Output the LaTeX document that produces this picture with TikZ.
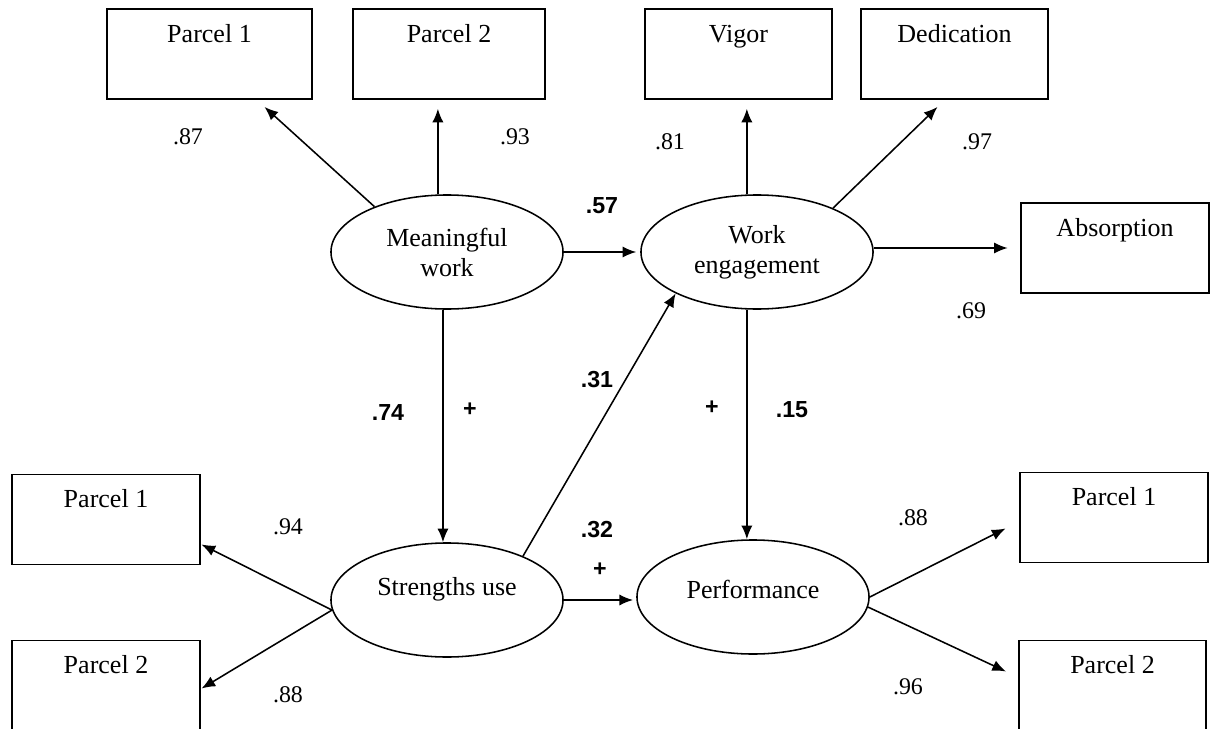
\documentclass[tikz,border=0pt]{standalone}
\usepackage{fontspec}
\setmainfont{Liberation Serif}
\newfontfamily\numsans{Liberation Sans}
\usetikzlibrary{arrows.meta,calc,shapes.geometric}

\tikzset{
	obs/.style={draw, line width=1.3pt, inner sep=0pt, minimum width=4.68cm, minimum height=2.25cm,
		text height=0.83cm, text depth=1.42cm, font=\fontsize{18.5}{21}\selectfont},
	lat/.style={ellipse, draw, line width=1.1pt, inner sep=0pt, minimum width=5.8cm, minimum height=2.85cm,
		align=center, font=\fontsize{18.5}{21.3}\selectfont},
	arr/.style={-{Latex[length=0.34cm,width=0.28cm]}, line width=1.1pt},
	load/.style={font=\fontsize{17}{20}\selectfont},
	coef/.style={font=\numsans\bfseries\fontsize{16.5}{20}\selectfont}
}

\begin{document}
\begin{tikzpicture}[x=0.025cm, y=-0.025cm]
		%%%%% START %%%%%
		\useasboundingbox (0,0) rectangle (1210,729);
		
		% indicators
		\node[obs, minimum width=5.125cm] (p1t) at (209.5,54) {Parcel 1};
		\node[obs, minimum width=4.8cm] (p2t) at (449,54) {Parcel 2};
		\node[obs] (vig) at (738.5,54) {Vigor};
		\node[obs] (ded) at (954.5,54) {Dedication};
		\node[obs] (abs) at (1115,248) {Absorption};
		\node[obs] (p1b) at (106,519.5) {Parcel 1};
		\node[obs] (p2b) at (106,685.5) {Parcel 2};
		\node[obs] (p1r) at (1114,517.5) {Parcel 1};
		\node[obs] (p2r) at (1112.5,685.5) {Parcel 2};
		
		% latent variables
		\node[lat] (mw) at (447,252) {Meaningful\\work};
		\node[lat] (we) at (757,252) {Work\\engagement};
		\node[lat, text depth=0.7cm] (su) at (447,600) {Strengths use};
		\node[lat, text depth=0.38cm] (perf) at (753,597) {Performance};
		
		% measurement paths
		\draw[arr] (mw.148) -- ($(p1t.south)+(55,7)$);
		\draw[arr, shorten >=0.22cm] (mw.99) -- (mw.99 |- p2t.south);
		\draw[arr, shorten >=0.22cm] (we.100) -- (we.100 |- vig.south);
		\draw[arr] (we.30) -- ($(ded.south)+(-17,7)$);
		\draw[arr, shorten >=0.32cm] (we.east |- abs) -- (abs.west);
		\draw[arr] (su.185) -- ($(p1b.east)+(1,25)$);
		\draw[arr] (su.185) -- ($(p2b.east)+(1,3)$);
		\draw[arr] (perf.0) -- ($(p1r.west)+(-14,11)$);
		\draw[arr] (perf.355) -- ($(p2r.west)+(-12,-14)$);
		
		% structural paths
		\draw[arr, shorten >=0.1cm] (mw) -- (we);
		\draw[arr] (mw.266) -- (mw.266 |- su.north);
		\draw[arr] (we.260) -- (we.260 |- perf.north);
		\draw[arr] (su.30) -- (we.207);
		\draw[arr, shorten >=0.08cm] (su.east) -- (su.east -| perf.west);
		
		% loadings
		\node[load] (l87) at (188,137) {.87};
		\node[load] (l93) at (515,137) {.93};
		\node[load] (l81) at (670,142) {.81};
		\node[load] (l97) at (977,142) {.97};
		\node[load] (l69) at (971,311) {.69};
		\node[load] (l94) at (288,527) {.94};
		\node[load] (l88a) at (288,695) {.88};
		\node[load] (l88b) at (913,518) {.88};
		\node[load] (l96) at (908,687) {.96};
		
		% path coefficients
		\node[coef] (c57) at (602,206) {.57};
		\node[coef] (c74) at (388,413) {.74};
		\node[coef] (s74) at (470,410) {+};
		\node[coef] (c31) at (597,380) {.31};
		\node[coef] (s15) at (712,408) {+};
		\node[coef] (c15) at (792,410) {.15};
		\node[coef] (c32) at (597,530) {.32};
		\node[coef] (s32) at (600,570) {+};
		%%%%% END %%%%%
\end{tikzpicture}
\end{document}
